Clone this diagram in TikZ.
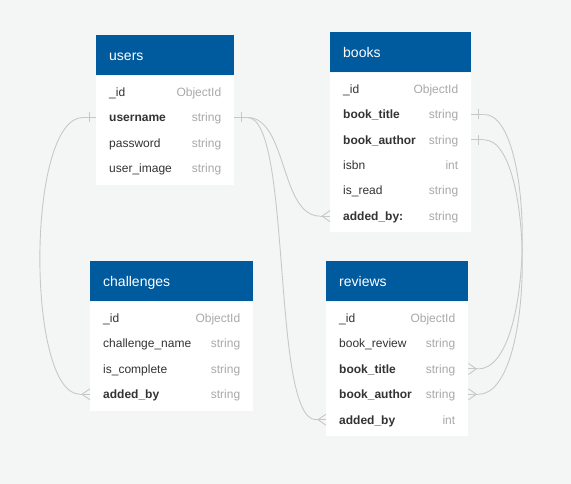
\documentclass[tikz,border=0pt]{standalone}
\usepackage{fontspec}
\setmainfont{Liberation Sans}
\definecolor{canvas}{HTML}{F4F5F5}
\definecolor{hdrblue}{HTML}{005A9E}
\definecolor{fldc}{HTML}{333333}
\definecolor{typc}{HTML}{A9A9A9}
\definecolor{linkc}{HTML}{C8C8C8}

% one table row: name, position (north west), width, field style, field, type
\newcommand\errow[6]{%
  \node[row, minimum width=#3, anchor=north west] (#1) at (#2) {};
  \node[#4] (#1-f) at ([xshift=13pt]#1.west) {#5};
  \node[typ] (#1-y) at ([xshift=-13pt]#1.east) {#6};}
% "exactly one" end: stub with a cross tick; #2 = +1 right, -1 left
\newcommand\erone[2]{%
  \draw[conn] (#1) -- ([xshift=#2*13pt]#1);
  \draw[conn] ([xshift=#2*7pt, yshift=5pt]#1) -- ([xshift=#2*7pt, yshift=-5pt]#1);}
% "many" end: stub with a crow's foot
\newcommand\ermany[2]{%
  \draw[conn] (#1) -- ([xshift=#2*10pt]#1);
  \draw[conn] ([yshift=5.5pt]#1) -- ([xshift=#2*8pt]#1) -- ([yshift=-5.5pt]#1);}

\begin{document}
\begin{tikzpicture}[x=1pt, y=-1pt,
  hdr/.style={fill=hdrblue, anchor=north west, inner sep=0pt, minimum height=40pt},
  tbody/.style={fill=white, anchor=north west, inner sep=0pt},
  ttl/.style={text=white, font=\fontsize{14}{16}\selectfont, anchor=west,
    inner sep=0pt, text height=10pt, text depth=0pt},
  row/.style={inner sep=0pt, minimum height=25pt},
  fld/.style={text=fldc, font=\fontsize{12}{14}\selectfont, anchor=west,
    inner sep=0pt, text height=8.6pt, text depth=0pt},
  key/.style={fld, font=\fontsize{12}{14}\selectfont\bfseries},
  typ/.style={text=typc, font=\fontsize{12}{14}\selectfont, anchor=east,
    inner sep=0pt, text height=8.6pt, text depth=0pt},
  conn/.style={draw=linkc, line width=0.9pt}]

\fill[canvas] (0,0) rectangle (571,484);
\useasboundingbox (0,0) rectangle (571,484);

% users
\node[hdr, minimum width=138pt] (users) at (96,35) {};
\node[ttl] (users-t) at ([xshift=13pt]users.west) {users};
\node[tbody, minimum width=138pt, minimum height=109pt] (users-b) at (users.south west) {};
\errow{users-id}{[yshift=-4pt]users-b.north west}{138pt}{fld}{\_id}{ObjectId}
\errow{users-un}{users-id.south west}{138pt}{key}{username}{string}
\errow{users-pw}{users-un.south west}{138pt}{fld}{password}{string}
\errow{users-im}{users-pw.south west}{138pt}{fld}{user\_image}{string}

% books
\node[hdr, minimum width=141pt] (books) at (330,32) {};
\node[ttl] (books-t) at ([xshift=13pt]books.west) {books};
\node[tbody, minimum width=141pt, minimum height=159pt] (books-b) at (books.south west) {};
\errow{books-id}{[yshift=-4pt]books-b.north west}{141pt}{fld}{\_id}{ObjectId}
\errow{books-bt}{books-id.south west}{141pt}{key}{book\_title}{string}
\errow{books-ba}{books-bt.south west}{141pt}{key}{book\_author}{string}
\errow{books-is}{books-ba.south west}{141pt}{fld}{isbn}{int}
\errow{books-rd}{books-is.south west}{141pt}{fld}{is\_read}{string}
\errow{books-ab}{books-rd.south west}{141pt}{key}{added\_by:}{string}

% challenges
\node[hdr, minimum width=163pt] (chal) at (90,261) {};
\node[ttl] (chal-t) at ([xshift=13pt]chal.west) {challenges};
\node[tbody, minimum width=163pt, minimum height=109pt] (chal-b) at (chal.south west) {};
\errow{chal-id}{[yshift=-4pt]chal-b.north west}{163pt}{fld}{\_id}{ObjectId}
\errow{chal-cn}{chal-id.south west}{163pt}{fld}{challenge\_name}{string}
\errow{chal-ic}{chal-cn.south west}{163pt}{fld}{is\_complete}{string}
\errow{chal-ab}{chal-ic.south west}{163pt}{key}{added\_by}{string}

% reviews
\node[hdr, minimum width=142pt] (rev) at (326,261) {};
\node[ttl] (rev-t) at ([xshift=13pt]rev.west) {reviews};
\node[tbody, minimum width=142pt, minimum height=134pt] (rev-b) at (rev.south west) {};
\errow{rev-id}{[yshift=-4pt]rev-b.north west}{142pt}{fld}{\_id}{ObjectId}
\errow{rev-br}{rev-id.south west}{142pt}{fld}{book\_review}{string}
\errow{rev-bt}{rev-br.south west}{142pt}{key}{book\_title}{string}
\errow{rev-ba}{rev-bt.south west}{142pt}{key}{book\_author}{string}
\errow{rev-ab}{rev-ba.south west}{142pt}{key}{added\_by}{int}

% relation ends
\erone{users-un.west}{-1}
\erone{users-un.east}{1}
\erone{books-bt.east}{1}
\erone{books-ba.east}{1}
\ermany{chal-ab.west}{-1}
\ermany{books-ab.west}{-1}
\ermany{rev-ab.west}{-1}
\ermany{rev-bt.east}{1}
\ermany{rev-ba.east}{1}

% relations
\draw[conn] ([xshift=-13pt]users-un.west) .. controls +(-57,0) and +(-54,0) .. ([xshift=-10pt]chal-ab.west);
\draw[conn] ([xshift=13pt]users-un.east) .. controls +(40,0) and +(-40,0) .. ([xshift=-10pt]books-ab.west);
\draw[conn] ([xshift=13pt]users-un.east) .. controls +(45,0) and +(-45,0) .. ([xshift=-10pt]rev-ab.west);
\draw[conn] ([xshift=13pt]books-bt.east) .. controls +(51,0) and +(58,0) .. ([xshift=10pt]rev-bt.east);
\draw[conn] ([xshift=13pt]books-ba.east) .. controls +(51,0) and +(58,0) .. ([xshift=10pt]rev-ba.east);
\end{tikzpicture}
\end{document}
